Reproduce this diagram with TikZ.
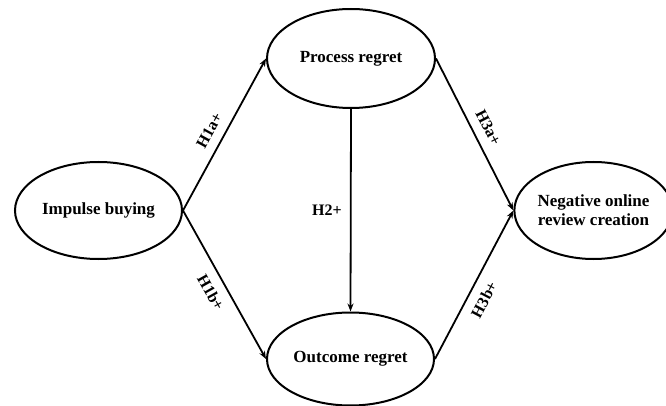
\documentclass[tikz,border=0pt]{standalone}
\usepackage{fontspec}
\setmainfont{Liberation Serif}
\usetikzlibrary{shapes.geometric,arrows.meta}
\begin{document}
\begin{tikzpicture}[x=1pt,y=-1pt,
  var/.style={draw,line width=2pt,ellipse,inner sep=0pt,font=\fontsize{17}{22}\selectfont\bfseries,align=center},
  link/.style={line width=1.8pt,-{Stealth[length=8pt,width=6pt]}},
  hyp/.style={font=\fontsize{16}{18}\selectfont\bfseries,inner sep=1pt,outer sep=0pt}]
\useasboundingbox (0,0) rectangle (666,406);
\node[var,minimum width=167pt,minimum height=97pt] (ib) at (98.5,210.5) {Impulse buying};
\node[var,minimum width=168pt,minimum height=99pt] (pr) at (351,58.5) {Process regret};
\node[var,minimum width=167pt,minimum height=93pt] (or) at (350.5,359) {Outcome regret};
\node[var,minimum width=143pt,minimum height=97pt] (nr) at (593.5,210.5) {Negative online\\[-3pt]review creation};
\draw[link] (ib.east) -- node[hyp,sloped,above=9pt,pos=0.48] {H1a+} (pr.west);
\draw[link] (ib.east) -- node[hyp,sloped,below=9pt,pos=0.5] {H1b+} (or.west);
\draw[link] (pr.east) -- node[hyp,sloped,above=9pt,pos=0.5] {H3a+} (nr.west);
\draw[link] (or.east) -- node[hyp,sloped,below=9pt,pos=0.45] {H3b+} (nr.west);
\draw[link] (pr.south) -- node[hyp,left,pos=0.5,xshift=-8pt] {H2+} (or.north);
\end{tikzpicture}
\end{document}
